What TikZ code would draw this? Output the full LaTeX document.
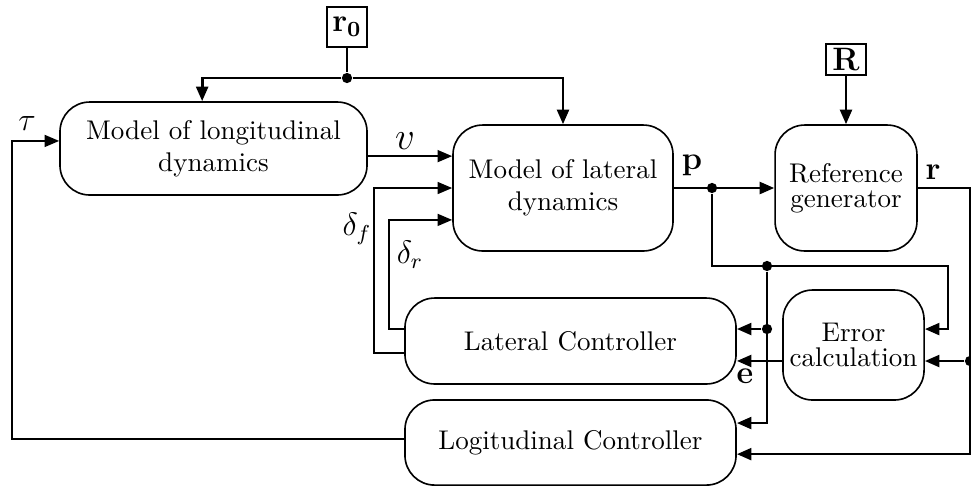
\documentclass[tikz,border=0pt]{standalone}
\usepackage{amssymb}
\usepackage{tikz}
\usetikzlibrary{arrows.meta,positioning}

\tikzset{
  block/.style={draw, rectangle, rounded corners=11pt, semithick, align=center, inner sep=0pt},
  inbox/.style={draw, rectangle, semithick, inner sep=0pt, font=\large},
  junc/.style={circle, fill, inner sep=0pt, minimum size=3.8pt},
  link/.style={->, line width=1pt},
  thinlink/.style={->, line width=0.7pt},
  lbl/.style={inner sep=0pt}
}

\begin{document}
\begin{tikzpicture}[x=0.37pt, y=-0.37pt, >={Triangle[length=5.4pt,width=4.4pt]}]
        \useasboundingbox (0,0) rectangle (971,486);

        % blocks
        \node[block, minimum width=113.6pt, minimum height=34.4pt] (long) at (213.5,148.5) {Model of longitudinal\\dynamics};
        \node[block, minimum width=81.4pt, minimum height=46.6pt] (latmod) at (563,188) {Model of lateral\\dynamics};
        \node[block, minimum width=52.5pt, minimum height=46.6pt] (refgen) at (846,188) {Reference\\[-2.6pt]generator};
        \node[block, minimum width=122.5pt, minimum height=31.8pt] (latctrl) at (570.5,341) {Lateral Controller};
        \node[block, minimum width=122.5pt, minimum height=31.5pt] (logctrl) at (570.5,442.5) {Logitudinal Controller};
        \node[block, minimum width=52.2pt, minimum height=40.7pt] (errcalc) at (853.5,345) {Error\\[-2.6pt]calculation};

        % inputs
        \node[inbox, minimum width=14.8pt, minimum height=14.8pt] (rzero) at (347,27) {$\mathbf{r_0}$};
        \node[inbox, minimum width=14.8pt, minimum height=11.5pt, above=17.8pt of refgen] (refin) {$\mathbf{R}$};

        % junctions
        \node[junc] (bus) at (347,78) {};
        \node[junc] (pj) at (712,188) {};
        \node[junc] (ej) at (767,266) {};
        \node[junc] (lj) at (767,329) {};
        \node[junc] (rj) at (970,361) {};
        \coordinate (pk) at (948,266);
        \coordinate (rc) at (970,188);
        \coordinate (vin) at ([yshift=11.8pt]latmod.west);
        \coordinate (ein) at ([yshift=-5.9pt]errcalc.west);

        % connectors
        \draw[line width=1pt] (rzero) -- (bus);
        \draw[link] (bus) -| ([xshift=-4.2pt]long.north);
        \draw[link] (bus) -| (latmod.north);
        \draw[link] (refin) -- (refgen);
        \draw[thinlink] (vin -| long.east) -- (vin);
        \draw[thinlink] ([yshift=-4.4pt]latctrl.west) -- ++(-30,0) |- (latmod.west);
        \draw[thinlink] ([yshift=4.4pt]latctrl.west) -- ++(-15,0) |- ([yshift=-11.8pt]latmod.west);
        \draw[thinlink] ([yshift=1.3pt]logctrl.west) -- ++(-392,0) |- ([yshift=2.8pt]long.west);
        \draw[link] (latmod) -- (refgen);
        \draw[link] (pj) |- (pk) |- ([yshift=5.9pt]errcalc.east);
        \draw[link] (ej) |- ([yshift=7.2pt]logctrl.east);
        \draw[link] (lj) -- (lj -| latctrl.east);
        \draw[link] (ein) -- (ein -| latctrl.east);
        \draw[link] (refgen.east) -- (rc) |- ([yshift=-4.3pt]logctrl.east);
        \draw[link] (rj) -- (rj -| errcalc.east);

        % labels
        \node[lbl, font=\large] (taulbl) at (27,124) {$\tau$};
        \node[lbl, font=\Large] (vlbl) at (405,141) {$v$};
        \node[lbl, font=\large] (dflbl) at (357,229) {$\delta_f$};
        \node[lbl, font=\large] (drlbl) at (410,255) {$\delta_r$};
        \node[lbl, font=\large] (plbl) at (692,165) {$\mathbf{p}$};
        \node[lbl, font=\large] (rlbl) at (933,172) {$\mathbf{r}$};
        \node[lbl, font=\large] (elbl) at (745,376) {$\mathbf{e}$};
    \end{tikzpicture}
\end{document}
